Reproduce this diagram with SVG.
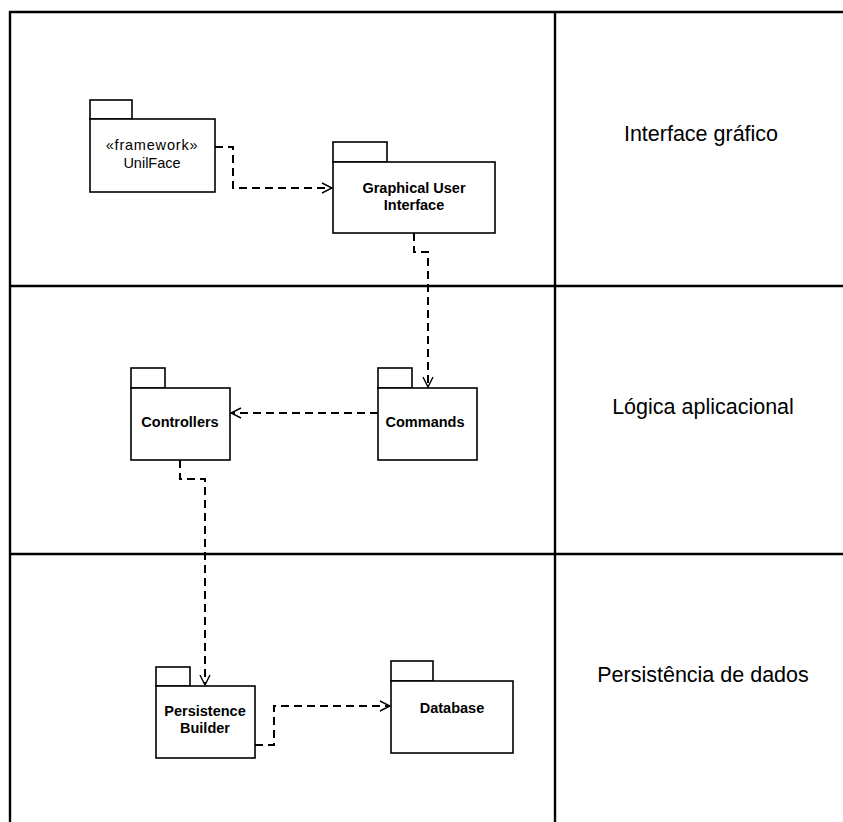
<svg xmlns="http://www.w3.org/2000/svg" width="843" height="822" viewBox="0 0 843 822">
  <style>
    .frame { fill: none; stroke: #000; stroke-width: 2.4; }
    .pkg rect { fill: #fff; stroke: #000; stroke-width: 1.6; }
    .name { font-family: "Liberation Sans", Arial, sans-serif; font-size: 14.5px; font-weight: bold; text-anchor: middle; fill: #000; }
    .plain { font-family: "Liberation Sans", Arial, sans-serif; font-size: 14.5px; text-anchor: middle; fill: #000; }
    .layer { font-family: "Liberation Sans", Arial, sans-serif; font-size: 21.5px; text-anchor: middle; fill: #000; }
    .dep { fill: none; stroke: #000; stroke-width: 2; stroke-dasharray: 8 5; }
  </style>
  <defs>
    <marker id="open" viewBox="0 0 12 12" refX="11" refY="6" markerWidth="12" markerHeight="12" markerUnits="userSpaceOnUse" orient="auto">
      <path d="M1,1 L11,6 L1,11" fill="none" stroke="#000" stroke-width="1.4"/>
    </marker>
  </defs>

  <rect width="843" height="822" fill="#fff"/>

  <!-- layer grid -->
  <g id="grid" class="frame">
    <path d="M10,822 V12 H843"/>
    <path d="M555,12 V822"/>
    <path d="M10,286 H843"/>
    <path d="M10,554 H843"/>
  </g>

  <!-- layer names -->
  <g id="layers">
    <text class="layer" x="701" y="141">Interface gráfico</text>
    <text class="layer" x="703" y="414">Lógica aplicacional</text>
    <text class="layer" x="703" y="682">Persistência de dados</text>
  </g>

  <!-- dependencies -->
  <g id="connectors">
    <path class="dep" d="M215,147 H233 V188 H332" marker-end="url(#open)"/>
    <path class="dep" d="M414,233 V252 H428 V387" marker-end="url(#open)"/>
    <path class="dep" d="M378,413 H231" marker-end="url(#open)"/>
    <path class="dep" d="M180,460 V479 H205 V685" marker-end="url(#open)"/>
    <path class="dep" d="M255,745 H274 V706 H390" marker-end="url(#open)"/>
  </g>

  <g id="uniface" class="pkg">
    <rect x="90" y="100" width="42" height="19"/>
    <rect x="90" y="119" width="125" height="73"/>
    <text class="plain" x="152" y="150" letter-spacing="0.8">«framework»</text>
    <text class="plain" x="152" y="168">UnilFace</text>
  </g>

  <g id="gui" class="pkg">
    <rect x="333" y="142" width="54" height="20"/>
    <rect x="333" y="162" width="162" height="71"/>
    <text class="name" x="414" y="193">Graphical User</text>
    <text class="name" x="414" y="210">Interface</text>
  </g>

  <g id="controllers" class="pkg">
    <rect x="131" y="368" width="34" height="20"/>
    <rect x="131" y="388" width="99" height="72"/>
    <text class="name" x="180" y="427">Controllers</text>
  </g>

  <g id="commands" class="pkg">
    <rect x="378" y="368" width="34" height="20"/>
    <rect x="378" y="388" width="99" height="72"/>
    <text class="name" x="425" y="427">Commands</text>
  </g>

  <g id="persistence" class="pkg">
    <rect x="156" y="667" width="34" height="19"/>
    <rect x="156" y="686" width="99" height="72"/>
    <text class="name" x="205" y="716">Persistence</text>
    <text class="name" x="205" y="733">Builder</text>
  </g>

  <g id="database" class="pkg">
    <rect x="391" y="661" width="42" height="20"/>
    <rect x="391" y="681" width="122" height="72"/>
    <text class="name" x="452" y="713">Database</text>
  </g>
</svg>
